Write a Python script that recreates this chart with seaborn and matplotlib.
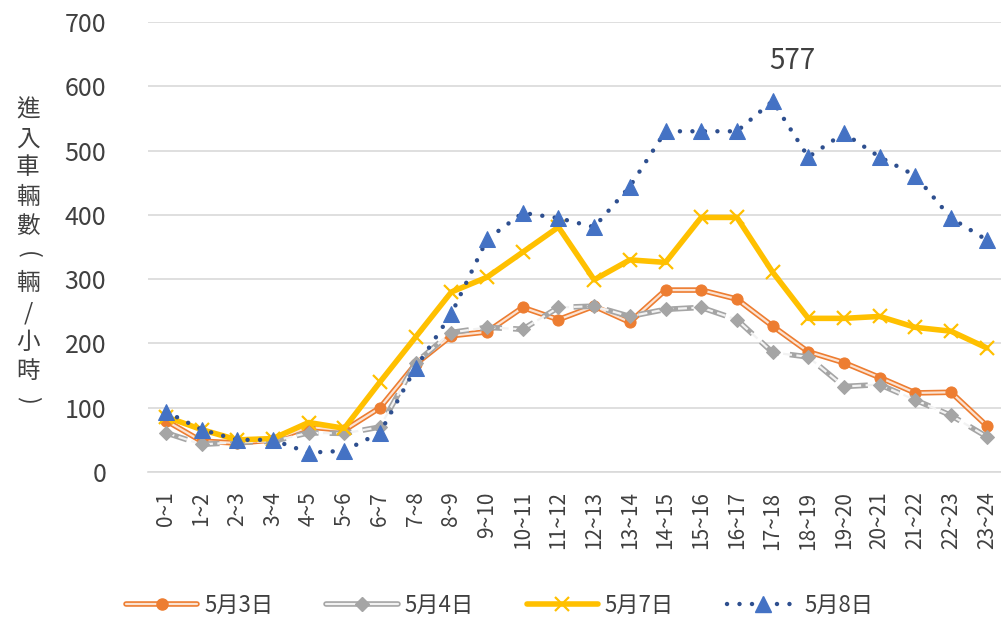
import matplotlib
matplotlib.use("Agg")
import matplotlib.pyplot as plt
from matplotlib.lines import Line2D
from matplotlib.legend_handler import HandlerTuple
import seaborn as sns
import pandas as pd

# Hourly intervals
hours = ["0~1", "1~2", "2~3", "3~4", "4~5", "5~6", "6~7", "7~8", "8~9", "9~10",
         "10~11", "11~12", "12~13", "13~14", "14~15", "15~16", "16~17", "17~18",
         "18~19", "19~20", "20~21", "21~22", "22~23", "23~24"]

# Vehicles entering per hour, by date
may3 = [80, 48, 45, 50, 70, 65, 100, 168, 212, 218, 256, 237, 258, 233, 283, 283,
        269, 227, 187, 170, 147, 123, 124, 72]
may4 = [61, 43, 46, 48, 61, 60, 70, 170, 217, 225, 222, 256, 258, 242, 253, 256,
        237, 186, 179, 133, 136, 112, 88, 55]
may7 = [86, 66, 50, 52, 77, 68, 140, 210, 280, 303, 342, 381, 299, 330, 326, 396,
        396, 311, 239, 239, 242, 225, 219, 193]
may8 = [94, 66, 50, 50, 30, 33, 61, 162, 246, 362, 403, 395, 381, 444, 530, 530,
        530, 577, 490, 527, 490, 461, 395, 361]

series_names = ["5月3日", "5月4日", "5月7日", "5月8日"]
peak_label = "577"
ylabel_chars = ["進", "入", "車", "輛", "數", "(", "輛", "/", "小", "時", ")"]

sns.set_theme(style="whitegrid")
plt.rcParams["font.family"] = ["Noto Sans CJK TC", "DejaVu Sans"]

frames = []
for name, vals in zip(series_names, [may3, may4, may7, may8]):
    frames.append(pd.DataFrame({"hour": hours, "count": vals, "date": name}))
df = pd.concat(frames, ignore_index=True)
df["pos"] = df.groupby("date").cumcount()

fig = plt.figure(figsize=(10.01, 6.26), dpi=100)
ax = fig.add_axes([148 / 1001, 1 - 472 / 626, 1 - 148 / 1001, (472 - 22) / 626])

TXT = "#404040"
ORANGE = "#ED7D31"
ORANGE_IN = "#FBE3D3"
GRAY = "#A5A5A5"
GRAY_IN = "#F2F2F2"
GOLD = "#FFC000"
BLUE = "#4472C4"
BLUE_DOT = "#2E4F8F"


def draw(name, **kw):
    sub = df[df["date"] == name]
    sns.lineplot(data=sub, x="pos", y="count", ax=ax, sort=False, legend=False, **kw)


# 5月3日: double orange line with circles
draw("5月3日", color=ORANGE, linewidth=4.0, zorder=3)
draw("5月3日", color=ORANGE_IN, linewidth=1.6, zorder=3.1)
draw("5月3日", color=ORANGE, linestyle="none", marker="o", markersize=8,
     markeredgecolor=ORANGE, zorder=3.2)

# 5月4日: dashed double grey line with diamonds
draw("5月4日", color=GRAY, linewidth=4.0, dashes=(4, 2), zorder=4)
draw("5月4日", color=GRAY_IN, linewidth=1.6, dashes=(4, 2), zorder=4.1)
draw("5月4日", color=GRAY, linestyle="none", marker="D", markersize=7,
     markeredgecolor=GRAY, zorder=4.2)

# 5月7日: thick gold line with crosses
draw("5月7日", color=GOLD, linewidth=4.0, marker="x", markersize=10,
     markeredgewidth=1.6, markeredgecolor=GOLD, zorder=5)

# 5月8日: round-dot blue line with triangles
draw("5月8日", color=BLUE_DOT, linewidth=3.2, dashes=(0.01, 2.8),
     dash_capstyle="round", zorder=6)
draw("5月8日", color=BLUE, linestyle="none", marker="^", markersize=11,
     markeredgecolor=BLUE, zorder=6.1)

# label the peak of 5月8日
peak_idx = may8.index(max(may8))
ax.annotate(peak_label, (peak_idx, max(may8)), xytext=(14, 18), textcoords="offset points",
            ha="center", va="bottom", fontsize=20, color=TXT)

ax.set_xlim(-0.5, len(hours) - 0.6)
ax.set_ylim(0, 700)
ax.set_yticks(range(0, 701, 100))
ax.set_xticks(range(len(hours)))
ax.set_xticklabels(hours, rotation=90, fontsize=15, color=TXT)
ax.tick_params(axis="y", labelsize=18, labelcolor=TXT, pad=24)
ax.tick_params(axis="x", pad=8)
ax.set_xlabel("")
ax.set_ylabel("")
ax.grid(axis="x", visible=False)
ax.grid(axis="y", color="#D9D9D9", linewidth=1.2)
for side in ["left", "right", "top"]:
    ax.spines[side].set_visible(False)
ax.spines["bottom"].set_visible(True)
ax.spines["bottom"].set_color("#D9D9D9")
ax.spines["bottom"].set_linewidth(1.2)
ax.set_facecolor("white")

# vertical axis title, one character per row; brackets turned sideways
y0, step = 110, 29
for i, ch in enumerate(ylabel_chars):
    rot = -90 if ch in "()" else 0
    if ch == "/":
        rot = 0
    fig.text(28 / 1001, 1 - (y0 + i * step) / 626, ch, ha="center", va="center",
             fontsize=17, color=TXT, rotation=rot)

# legend
h3 = (Line2D([], [], color=ORANGE, lw=4.0), Line2D([], [], color=ORANGE_IN, lw=1.6),
      Line2D([], [], color=ORANGE, ls="none", marker="o", ms=8))
h4 = (Line2D([], [], color=GRAY, lw=4.0), Line2D([], [], color=GRAY_IN, lw=1.6),
      Line2D([], [], color=GRAY, ls="none", marker="D", ms=7))
h7 = Line2D([], [], color=GOLD, lw=4.0, marker="x", ms=10, mew=1.6)
h8 = (Line2D([], [], color=BLUE_DOT, lw=3.2, dashes=(0.01, 2.8), dash_capstyle="round"),
      Line2D([], [], color=BLUE, ls="none", marker="^", ms=11))
fig.legend([h3, h4, h7, h8], series_names,
           handler_map={tuple: HandlerTuple(ndivide=1, pad=0)},
           loc="center", bbox_to_anchor=(500 / 1001, 1 - 605 / 626), ncol=4, frameon=False,
           fontsize=16, handlelength=3.2, columnspacing=2.4, handletextpad=0.3,
           labelcolor=TXT)

fig.savefig("out.png", dpi=100, facecolor="white")
